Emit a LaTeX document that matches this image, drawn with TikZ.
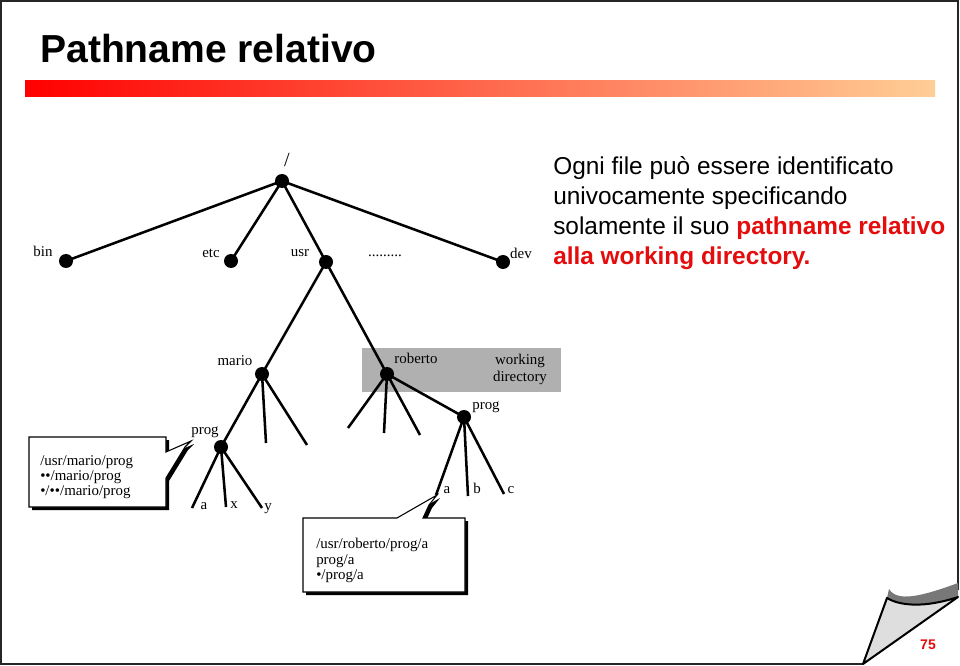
\documentclass[tikz,border=0pt]{standalone}
\usepackage{fontspec}
\setmainfont{Liberation Serif}
\newfontfamily\arial{Liberation Sans}
\definecolor{hred}{RGB}{228,12,12}
\definecolor{wdgray}{RGB}{176,176,176}
\definecolor{barend}{RGB}{255,206,150}
\definecolor{curlgray}{RGB}{222,222,222}
\definecolor{curldark}{RGB}{120,120,120}
\begin{document}
\begin{tikzpicture}[x=0.75pt,y=-0.75pt,
  dot/.style={circle,fill=black,inner sep=0pt,minimum size=10.5pt},
  lbl/.style={inner sep=0pt,anchor=base,font=\fontsize{11.2}{13}\selectfont},
  edge/.style={line width=1.9pt},
  frameline/.style={line width=1.5pt,draw=black!85},
  txt/.style={inner sep=0pt,anchor=base west,font=\arial\fontsize{18.3}{22}\selectfont},
  ctext/.style={inner sep=0pt,anchor=base west,font=\fontsize{11.2}{13}\selectfont},
  callout/.style={fill=white,draw=black,line width=0.8pt,line join=miter},
  cshadow/.style={fill=black}]

\useasboundingbox (0,0) rectangle (960,666);
\fill[white] (0,0) rectangle (960,666);

% page frame
\draw[frameline] (863,664) -- (1,664) -- (1,1) -- (958,1) -- (958,590);

% title and bar
\node[inner sep=0pt,anchor=base west,font=\arial\bfseries\fontsize{29.3}{35}\selectfont] (title) at (40,63) {Pathname relativo};
\shade[left color=red,right color=barend] (25,81) rectangle (935,97);

% right text
\node[txt] (t1) at (553,175) {Ogni file può essere identificato};
\node[txt] (t2) at (553,205) {univocamente specificando};
\node[txt] (t3) at (553,235) {solamente il suo \textcolor{hred}{\bfseries pathname relativo}};
\node[txt,text=hred] (t4) at (553,265) {\bfseries alla working directory.};

% working directory highlight
\fill[wdgray] (362,348) rectangle (561,392);
\node[inner sep=0pt,align=center,font=\fontsize{11.2}{12.7}\selectfont] (wd) at (520,369) {working\\directory};

% tree nodes
\node[dot] (root) at (282,181) {};
\node[dot] (bin) at (66,261) {};
\node[dot] (etc) at (231,261) {};
\node[dot] (usr) at (326,262) {};
\node[dot] (dev) at (503,262) {};
\node[dot] (mario) at (262,374) {};
\node[dot] (roberto) at (387,374) {};
\node[dot] (mprog) at (221,447) {};
\node[dot] (rprog) at (464,417) {};

\coordinate (m2) at (266,443);
\coordinate (m3) at (307,445);
\coordinate (ma) at (192,508);
\coordinate (mx) at (226,507);
\coordinate (my) at (262,508);
\coordinate (r1) at (348,428);
\coordinate (r2) at (384,433);
\coordinate (r3) at (420,435);
\coordinate (ra) at (436,495);
\coordinate (rb) at (468,496);
\coordinate (rc) at (504,494);

\draw[edge] (root.center) -- (bin.center);
\draw[edge] (root.center) -- (etc.center);
\draw[edge] (root.center) -- (usr.center);
\draw[edge] (root.center) -- (dev.center);
\draw[edge] (usr.center) -- (mario.center);
\draw[edge] (usr.center) -- (roberto.center);
\draw[edge] (mario.center) -- (mprog.center);
\draw[edge] (mario.center) -- (m2);
\draw[edge] (mario.center) -- (m3);
\draw[edge] (mprog.center) -- (ma);
\draw[edge] (mprog.center) -- (mx);
\draw[edge] (mprog.center) -- (my);
\draw[edge] (roberto.center) -- (r1);
\draw[edge] (roberto.center) -- (r2);
\draw[edge] (roberto.center) -- (r3);
\draw[edge] (roberto.center) -- (rprog.center);
\draw[edge] (rprog.center) -- (ra);
\draw[edge] (rprog.center) -- (rb);
\draw[edge] (rprog.center) -- (rc);

% labels
\node[lbl,font=\fontsize{15}{17}\selectfont] (lroot) at (287,167) {/};
\node[lbl] (lbin) at (43,257) {bin};
\node[lbl] (letc) at (211,258) {etc};
\node[lbl] (lusr) at (300,257) {usr};
\node[lbl] (ldots) at (385,257) {.........};
\node[lbl] (ldev) at (521,259) {dev};
\node[lbl] (lmario) at (235,366) {mario};
\node[lbl] (lroberto) at (416,364) {roberto};
\node[lbl] (lrprog) at (486,410) {prog};
\node[lbl] (lmprog) at (205,435) {prog};
\node[lbl] (lma) at (204,509) {a};
\node[lbl] (lmx) at (234,508) {x};
\node[lbl] (lmy) at (268,510) {y};
\node[lbl] (lra) at (447,493) {a};
\node[lbl] (lrb) at (477,493) {b};
\node[lbl] (lrc) at (511,493) {c};

% callout 1
\fill[cshadow,shift={(3,3)}] (29,437) -- (166,437) -- (166,452) -- (191,441) -- (185,447) -- (166,478) -- (166,507) -- (29,507) -- cycle;
\filldraw[callout] (29,437) -- (166,437) -- (166,452) -- (191,441) -- (185,447) -- (166,478) -- (166,507) -- (29,507) -- cycle;
\node[ctext] (c1a) at (40,465) {/usr/mario/prog};
\node[ctext] (c1b) at (40,480) {••/mario/prog};
\node[ctext] (c1c) at (40,495) {•/••/mario/prog};

% callout 2
\fill[cshadow,shift={(3,3)}] (303,518) -- (397,518) -- (437,495) -- (429,505) -- (423,518) -- (465,518) -- (465,592) -- (303,592) -- cycle;
\filldraw[callout] (303,518) -- (397,518) -- (437,495) -- (429,505) -- (423,518) -- (465,518) -- (465,592) -- (303,592) -- cycle;
\node[ctext] (c2a) at (316,548) {/usr/roberto/prog/a};
\node[ctext] (c2b) at (316,564) {prog/a};
\node[ctext] (c2c) at (316,579) {•/prog/a};

% page curl
\fill[curldark] (889,589) .. controls (897,602) and (920,597) .. (958,583) -- (958,597) .. controls (925,608) and (900,606) .. (887,598) -- cycle;
\filldraw[fill=curlgray,draw=black,line width=1.5pt,line join=round] (863,664) -- (887,598) .. controls (900,606) and (925,608) .. (958,597) -- cycle;
\node[inner sep=0pt,anchor=base,font=\arial\bfseries\fontsize{10.5}{12}\selectfont,text=hred] (pnum) at (928,649) {75};
\end{tikzpicture}
\end{document}
